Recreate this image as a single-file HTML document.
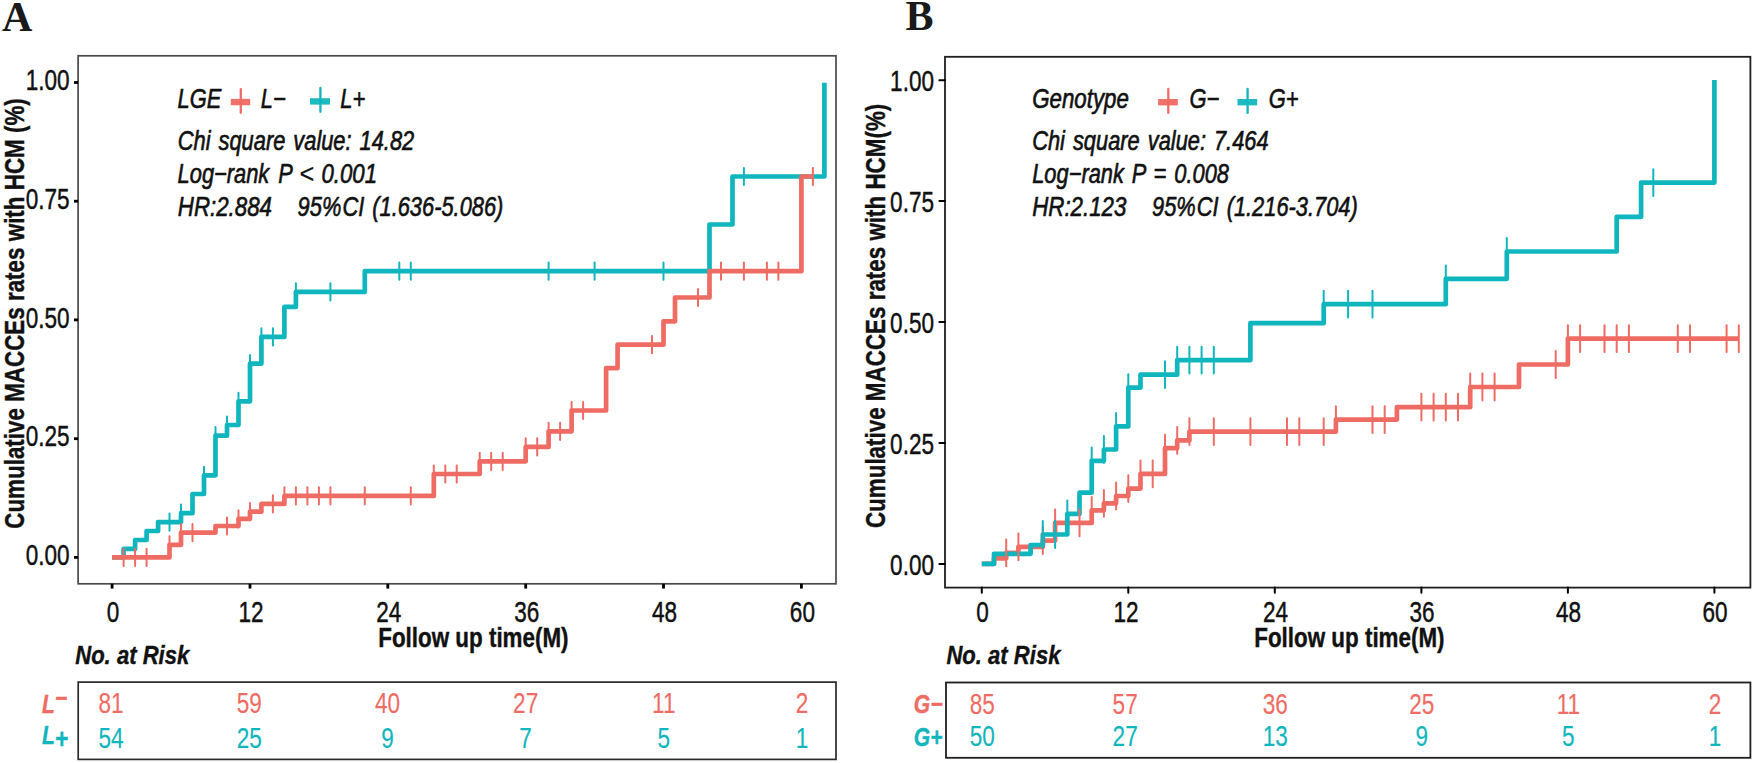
<!DOCTYPE html>
<html lang="en"><head><meta charset="utf-8"><title>Cumulative MACCEs rates with HCM</title>
<style>html,body{margin:0;padding:0;background:#fff}svg{display:block}</style></head><body>
<svg width="1755" height="763" viewBox="0 0 1755 763">
<rect x="0" y="0" width="1755" height="763" fill="#fff"/>
<g id="panelA">
<text transform="translate(2.00,30.60) scale(1.0,1)" font-family='"Liberation Serif", "Times New Roman", serif' font-size="42" font-weight="bold" font-style="normal" fill="#1a1a1a" text-anchor="start" xml:space="preserve">A</text>
<rect x="78.1" y="55.8" width="757.9" height="528.0" fill="none" stroke="#4a4a4a" stroke-width="1.7"/>
<path d="M112.1,557.4 L123.6,557.4 L123.6,548.9 L135.1,548.9 L135.1,540.0 L146.6,540.0 L146.6,531.0 L158.1,531.0 L158.1,522.1 L181.0,522.1 L181.0,513.2 L192.5,513.2 L192.5,494.0 L204.0,494.0 L204.0,475.3 L215.5,475.3 L215.5,435.7 L227.0,435.7 L227.0,425.0 L238.5,425.0 L238.5,401.3 L250.0,401.3 L250.0,363.7 L261.4,363.7 L261.4,336.9 L284.4,336.9 L284.4,306.9 L295.9,306.9 L295.9,291.9 L364.8,291.9 L364.8,271.2 L709.5,271.2 L709.5,224.5 L732.5,224.5 L732.5,176.5 L824.4,176.5 L824.4,82.7" stroke="#10B6BE" stroke-width="4.7" fill="none" stroke-linejoin="round" stroke-linecap="butt"/>
<path d="M112.1,557.4 L169.5,557.4 L169.5,544.8 L181.0,544.8 L181.0,532.6 L215.5,532.6 L215.5,526.0 L238.5,526.0 L238.5,518.8 L250.0,518.8 L250.0,511.7 L261.4,511.7 L261.4,503.9 L284.4,503.9 L284.4,495.9 L433.8,495.9 L433.8,474.0 L479.7,474.0 L479.7,461.3 L525.7,461.3 L525.7,446.9 L548.6,446.9 L548.6,431.3 L571.6,431.3 L571.6,410.5 L606.1,410.5 L606.1,368.1 L617.6,368.1 L617.6,344.7 L663.5,344.7 L663.5,321.3 L675.0,321.3 L675.0,297.5 L709.5,297.5 L709.5,271.2 L801.4,271.2 L801.4,176.5 L812.9,176.5" stroke="#EF6C64" stroke-width="4.7" fill="none" stroke-linejoin="round" stroke-linecap="butt"/>
<path d="M169.5,513.5V530.7M181.0,504.6V521.8M204.0,466.7V483.9M215.5,427.1V444.3M227.0,416.4V433.6M238.5,392.7V409.9M250.0,355.1V372.3M261.4,328.3V345.5M272.9,328.3V345.5M295.9,283.3V300.5M330.4,283.3V300.5M399.3,262.6V279.8M410.8,262.6V279.8M548.6,262.6V279.8M594.6,262.6V279.8M663.5,262.6V279.8M743.9,167.9V185.1" stroke="#10B6BE" stroke-width="2.0" fill="none" stroke-linecap="round"/>
<path d="M123.6,548.8V566.0M135.1,548.8V566.0M146.6,548.8V566.0M169.5,536.2V553.4M181.0,524.0V541.2M192.5,524.0V541.2M227.0,517.4V534.6M238.5,510.2V527.4M250.0,503.1V520.3M272.9,495.3V512.5M284.4,487.3V504.5M295.9,487.3V504.5M307.4,487.3V504.5M318.9,487.3V504.5M330.4,487.3V504.5M364.8,487.3V504.5M410.8,487.3V504.5M433.8,465.4V482.6M445.3,465.4V482.6M456.7,465.4V482.6M479.7,452.7V469.9M491.2,452.7V469.9M502.7,452.7V469.9M525.7,438.3V455.5M537.2,438.3V455.5M548.6,422.7V439.9M560.1,422.7V439.9M571.6,401.9V419.1M583.1,401.9V419.1M652.0,336.1V353.3M698.0,288.9V306.1M721.0,262.6V279.8M743.9,262.6V279.8M766.9,262.6V279.8M778.4,262.6V279.8M812.9,167.9V185.1" stroke="#EF6C64" stroke-width="2.0" fill="none" stroke-linecap="round"/>
<line x1="74.0" x2="78.1" y1="557.4" y2="557.4" stroke="#000" stroke-width="2.8"/>
<text transform="translate(69.60,565.20) scale(0.783,1)" font-family='"Liberation Sans", Arial, sans-serif' font-size="28.8" font-weight="normal" font-style="normal" fill="#111" stroke="#111" stroke-width="0.45" stroke-linejoin="round" text-anchor="end" xml:space="preserve">0.00</text>
<line x1="74.0" x2="78.1" y1="438.7" y2="438.7" stroke="#000" stroke-width="2.8"/>
<text transform="translate(69.60,446.47) scale(0.783,1)" font-family='"Liberation Sans", Arial, sans-serif' font-size="28.8" font-weight="normal" font-style="normal" fill="#111" stroke="#111" stroke-width="0.45" stroke-linejoin="round" text-anchor="end" xml:space="preserve">0.25</text>
<line x1="74.0" x2="78.1" y1="319.9" y2="319.9" stroke="#000" stroke-width="2.8"/>
<text transform="translate(69.60,327.75) scale(0.783,1)" font-family='"Liberation Sans", Arial, sans-serif' font-size="28.8" font-weight="normal" font-style="normal" fill="#111" stroke="#111" stroke-width="0.45" stroke-linejoin="round" text-anchor="end" xml:space="preserve">0.50</text>
<line x1="74.0" x2="78.1" y1="201.2" y2="201.2" stroke="#000" stroke-width="2.8"/>
<text transform="translate(69.60,209.03) scale(0.783,1)" font-family='"Liberation Sans", Arial, sans-serif' font-size="28.8" font-weight="normal" font-style="normal" fill="#111" stroke="#111" stroke-width="0.45" stroke-linejoin="round" text-anchor="end" xml:space="preserve">0.75</text>
<line x1="74.0" x2="78.1" y1="82.5" y2="82.5" stroke="#000" stroke-width="2.8"/>
<text transform="translate(69.60,90.30) scale(0.783,1)" font-family='"Liberation Sans", Arial, sans-serif' font-size="28.8" font-weight="normal" font-style="normal" fill="#111" stroke="#111" stroke-width="0.45" stroke-linejoin="round" text-anchor="end" xml:space="preserve">1.00</text>
<line x1="112.1" x2="112.1" y1="583.8" y2="588.6" stroke="#000" stroke-width="2.8"/>
<text transform="translate(113.10,621.50) scale(0.783,1)" font-family='"Liberation Sans", Arial, sans-serif' font-size="28.8" font-weight="normal" font-style="normal" fill="#111" stroke="#111" stroke-width="0.45" stroke-linejoin="round" text-anchor="middle" xml:space="preserve">0</text>
<line x1="250.0" x2="250.0" y1="583.8" y2="588.6" stroke="#000" stroke-width="2.8"/>
<text transform="translate(250.96,621.50) scale(0.783,1)" font-family='"Liberation Sans", Arial, sans-serif' font-size="28.8" font-weight="normal" font-style="normal" fill="#111" stroke="#111" stroke-width="0.45" stroke-linejoin="round" text-anchor="middle" xml:space="preserve">12</text>
<line x1="387.8" x2="387.8" y1="583.8" y2="588.6" stroke="#000" stroke-width="2.8"/>
<text transform="translate(388.81,621.50) scale(0.783,1)" font-family='"Liberation Sans", Arial, sans-serif' font-size="28.8" font-weight="normal" font-style="normal" fill="#111" stroke="#111" stroke-width="0.45" stroke-linejoin="round" text-anchor="middle" xml:space="preserve">24</text>
<line x1="525.7" x2="525.7" y1="583.8" y2="588.6" stroke="#000" stroke-width="2.8"/>
<text transform="translate(526.67,621.50) scale(0.783,1)" font-family='"Liberation Sans", Arial, sans-serif' font-size="28.8" font-weight="normal" font-style="normal" fill="#111" stroke="#111" stroke-width="0.45" stroke-linejoin="round" text-anchor="middle" xml:space="preserve">36</text>
<line x1="663.5" x2="663.5" y1="583.8" y2="588.6" stroke="#000" stroke-width="2.8"/>
<text transform="translate(664.52,621.50) scale(0.783,1)" font-family='"Liberation Sans", Arial, sans-serif' font-size="28.8" font-weight="normal" font-style="normal" fill="#111" stroke="#111" stroke-width="0.45" stroke-linejoin="round" text-anchor="middle" xml:space="preserve">48</text>
<line x1="801.4" x2="801.4" y1="583.8" y2="588.6" stroke="#000" stroke-width="2.8"/>
<text transform="translate(802.38,621.50) scale(0.783,1)" font-family='"Liberation Sans", Arial, sans-serif' font-size="28.8" font-weight="normal" font-style="normal" fill="#111" stroke="#111" stroke-width="0.45" stroke-linejoin="round" text-anchor="middle" xml:space="preserve">60</text>
<text transform="translate(473.40,646.80) scale(0.83,1)" font-family='"Liberation Sans", Arial, sans-serif' font-size="27" font-weight="bold" font-style="normal" fill="#111" stroke="#111" stroke-width="0.4" stroke-linejoin="round" text-anchor="middle" xml:space="preserve">Follow up time(M)</text>
<text transform="translate(23.60,313.50) rotate(-90) scale(0.83,1)" font-family='"Liberation Sans", Arial, sans-serif' font-size="27" font-weight="bold" font-style="normal" fill="#111" stroke="#111" stroke-width="0.4" stroke-linejoin="round" text-anchor="middle" xml:space="preserve">Cumulative MACCEs rates with HCM (%)</text>
<text transform="translate(177.60,108.00) scale(0.8,1)" font-family='"Liberation Sans", Arial, sans-serif' font-size="27.3" font-weight="normal" font-style="italic" fill="#111" stroke="#111" stroke-width="0.65" stroke-linejoin="round" word-spacing="2.4" text-anchor="start" xml:space="preserve">LGE</text>
<path d="M230.8,102.05H250.2" stroke="#F0716A" stroke-width="6.4" fill="none"/>
<path d="M240.8,89.1V112.8" stroke="#EF6C64" stroke-width="2.3" fill="none" stroke-linecap="round"/>
<text transform="translate(260.80,108.00) scale(0.795,1)" font-family='"Liberation Sans", Arial, sans-serif' font-size="27.6" font-weight="normal" font-style="italic" fill="#111" stroke="#111" stroke-width="0.6" stroke-linejoin="round" word-spacing="2.4" text-anchor="start" xml:space="preserve">L−</text>
<path d="M310.0,101.4H330.0" stroke="#1DBBC0" stroke-width="6.4" fill="none"/>
<path d="M320.4,88.0V111.8" stroke="#10B6BE" stroke-width="2.3" fill="none" stroke-linecap="round"/>
<text transform="translate(340.30,108.00) scale(0.795,1)" font-family='"Liberation Sans", Arial, sans-serif' font-size="27.6" font-weight="normal" font-style="italic" fill="#111" stroke="#111" stroke-width="0.6" stroke-linejoin="round" word-spacing="2.4" text-anchor="start" xml:space="preserve">L+</text>
<text transform="translate(177.80,150.00) scale(0.8,1)" font-family='"Liberation Sans", Arial, sans-serif' font-size="27.3" font-weight="normal" font-style="italic" fill="#111" stroke="#111" stroke-width="0.65" stroke-linejoin="round" word-spacing="2.4" text-anchor="start" xml:space="preserve">Chi square value: 14.82</text>
<text transform="translate(177.60,182.50) scale(0.8,1)" font-family='"Liberation Sans", Arial, sans-serif' font-size="27.3" font-weight="normal" font-style="italic" fill="#111" stroke="#111" stroke-width="0.65" stroke-linejoin="round" word-spacing="3.6" text-anchor="start" xml:space="preserve">Log−rank P</text>
<text transform="translate(299.60,182.50) scale(0.93,1)" font-family='"Liberation Sans", Arial, sans-serif' font-size="27.3" font-weight="normal" font-style="normal" fill="#111" stroke="#111" stroke-width="0.15" stroke-linejoin="round" text-anchor="start" xml:space="preserve">&lt;</text>
<text transform="translate(321.40,182.50) scale(0.815,1)" font-family='"Liberation Sans", Arial, sans-serif' font-size="27.3" font-weight="normal" font-style="italic" fill="#111" stroke="#111" stroke-width="0.65" stroke-linejoin="round" word-spacing="2.4" text-anchor="start" xml:space="preserve">0.001</text>
<text transform="translate(177.80,216.20) scale(0.817,1)" font-family='"Liberation Sans", Arial, sans-serif' font-size="27.3" font-weight="normal" font-style="italic" fill="#111" stroke="#111" stroke-width="0.65" stroke-linejoin="round" word-spacing="2.4" text-anchor="start" xml:space="preserve">HR:2.884</text>
<text transform="translate(297.60,216.20) scale(0.8,1)" font-family='"Liberation Sans", Arial, sans-serif' font-size="27.3" font-weight="normal" font-style="italic" fill="#111" stroke="#111" stroke-width="0.65" stroke-linejoin="round" word-spacing="2.4" text-anchor="start" xml:space="preserve">95%</text>
<text transform="translate(342.40,216.20) scale(0.8,1)" font-family='"Liberation Sans", Arial, sans-serif' font-size="27.3" font-weight="normal" font-style="italic" fill="#111" stroke="#111" stroke-width="0.65" stroke-linejoin="round" word-spacing="2.4" text-anchor="start" xml:space="preserve">CI (1.636-5.086)</text>
<text transform="translate(75.20,664.00) scale(0.83,1)" font-family='"Liberation Sans", Arial, sans-serif' font-size="26.6" font-weight="bold" font-style="italic" fill="#111" stroke="#111" stroke-width="0.4" stroke-linejoin="round" text-anchor="start" xml:space="preserve">No. at Risk</text>
<rect x="78.2" y="682.1" width="757.8" height="77.3" fill="none" stroke="#2a2a2a" stroke-width="1.7"/>
<text transform="translate(42.00,712.60) scale(0.81,1)" font-family='"Liberation Sans", Arial, sans-serif' font-size="26" font-weight="bold" font-style="italic" fill="#EF6C64" stroke="#EF6C64" stroke-width="0.4" stroke-linejoin="round" text-anchor="start" xml:space="preserve">L<tspan dy="-5.5">−</tspan></text>
<text transform="translate(42.00,744.40) scale(0.81,1)" font-family='"Liberation Sans", Arial, sans-serif' font-size="26" font-weight="bold" font-style="italic" fill="#10B6BE" stroke="#10B6BE" stroke-width="0.4" stroke-linejoin="round" text-anchor="start" xml:space="preserve">L<tspan dy="3.5" font-size="28">+</tspan></text>
<text transform="translate(111.10,712.80) scale(0.783,1)" font-family='"Liberation Sans", Arial, sans-serif' font-size="28.8" font-weight="normal" font-style="normal" fill="#EF6C64" stroke="#EF6C64" stroke-width="0.15" stroke-linejoin="round" text-anchor="middle" xml:space="preserve">81</text>
<text transform="translate(111.10,747.90) scale(0.783,1)" font-family='"Liberation Sans", Arial, sans-serif' font-size="28.8" font-weight="normal" font-style="normal" fill="#10B6BE" stroke="#10B6BE" stroke-width="0.15" stroke-linejoin="round" text-anchor="middle" xml:space="preserve">54</text>
<text transform="translate(249.28,712.80) scale(0.783,1)" font-family='"Liberation Sans", Arial, sans-serif' font-size="28.8" font-weight="normal" font-style="normal" fill="#EF6C64" stroke="#EF6C64" stroke-width="0.15" stroke-linejoin="round" text-anchor="middle" xml:space="preserve">59</text>
<text transform="translate(249.28,747.90) scale(0.783,1)" font-family='"Liberation Sans", Arial, sans-serif' font-size="28.8" font-weight="normal" font-style="normal" fill="#10B6BE" stroke="#10B6BE" stroke-width="0.15" stroke-linejoin="round" text-anchor="middle" xml:space="preserve">25</text>
<text transform="translate(387.46,712.80) scale(0.783,1)" font-family='"Liberation Sans", Arial, sans-serif' font-size="28.8" font-weight="normal" font-style="normal" fill="#EF6C64" stroke="#EF6C64" stroke-width="0.15" stroke-linejoin="round" text-anchor="middle" xml:space="preserve">40</text>
<text transform="translate(387.46,747.90) scale(0.783,1)" font-family='"Liberation Sans", Arial, sans-serif' font-size="28.8" font-weight="normal" font-style="normal" fill="#10B6BE" stroke="#10B6BE" stroke-width="0.15" stroke-linejoin="round" text-anchor="middle" xml:space="preserve">9</text>
<text transform="translate(525.64,712.80) scale(0.783,1)" font-family='"Liberation Sans", Arial, sans-serif' font-size="28.8" font-weight="normal" font-style="normal" fill="#EF6C64" stroke="#EF6C64" stroke-width="0.15" stroke-linejoin="round" text-anchor="middle" xml:space="preserve">27</text>
<text transform="translate(525.64,747.90) scale(0.783,1)" font-family='"Liberation Sans", Arial, sans-serif' font-size="28.8" font-weight="normal" font-style="normal" fill="#10B6BE" stroke="#10B6BE" stroke-width="0.15" stroke-linejoin="round" text-anchor="middle" xml:space="preserve">7</text>
<text transform="translate(663.82,712.80) scale(0.783,1)" font-family='"Liberation Sans", Arial, sans-serif' font-size="28.8" font-weight="normal" font-style="normal" fill="#EF6C64" stroke="#EF6C64" stroke-width="0.15" stroke-linejoin="round" text-anchor="middle" xml:space="preserve">11</text>
<text transform="translate(663.82,747.90) scale(0.783,1)" font-family='"Liberation Sans", Arial, sans-serif' font-size="28.8" font-weight="normal" font-style="normal" fill="#10B6BE" stroke="#10B6BE" stroke-width="0.15" stroke-linejoin="round" text-anchor="middle" xml:space="preserve">5</text>
<text transform="translate(802.00,712.80) scale(0.783,1)" font-family='"Liberation Sans", Arial, sans-serif' font-size="28.8" font-weight="normal" font-style="normal" fill="#EF6C64" stroke="#EF6C64" stroke-width="0.15" stroke-linejoin="round" text-anchor="middle" xml:space="preserve">2</text>
<text transform="translate(802.00,747.90) scale(0.783,1)" font-family='"Liberation Sans", Arial, sans-serif' font-size="28.8" font-weight="normal" font-style="normal" fill="#10B6BE" stroke="#10B6BE" stroke-width="0.15" stroke-linejoin="round" text-anchor="middle" xml:space="preserve">1</text>
</g>
<g id="panelB">
<text transform="translate(905.50,30.20) scale(1.0,1)" font-family='"Liberation Serif", "Times New Roman", serif' font-size="42" font-weight="bold" font-style="normal" fill="#1a1a1a" text-anchor="start" xml:space="preserve">B</text>
<rect x="945.0" y="56.8" width="805.4" height="530.8" fill="none" stroke="#1f1f1f" stroke-width="1.8"/>
<path d="M981.8,563.9 L994.0,563.9 L994.0,558.3 L1006.2,558.3 L1006.2,552.8 L1018.4,552.8 L1018.4,546.8 L1042.8,546.8 L1042.8,540.6 L1055.1,540.6 L1055.1,522.9 L1091.7,522.9 L1091.7,510.3 L1103.9,510.3 L1103.9,503.3 L1116.1,503.3 L1116.1,496.0 L1128.3,496.0 L1128.3,488.6 L1140.5,488.6 L1140.5,473.9 L1165.0,473.9 L1165.0,448.2 L1177.2,448.2 L1177.2,440.4 L1189.4,440.4 L1189.4,431.6 L1335.9,431.6 L1335.9,419.6 L1396.9,419.6 L1396.9,407.2 L1470.2,407.2 L1470.2,387.0 L1519.0,387.0 L1519.0,364.5 L1567.9,364.5 L1567.9,338.6 L1738.8,338.6" stroke="#EF6C64" stroke-width="4.7" fill="none" stroke-linejoin="round" stroke-linecap="butt"/>
<path d="M981.8,563.9 L994.0,563.9 L994.0,553.8 L1030.6,553.8 L1030.6,545.0 L1042.8,545.0 L1042.8,534.5 L1067.3,534.5 L1067.3,513.9 L1079.5,513.9 L1079.5,492.7 L1091.7,492.7 L1091.7,460.8 L1103.9,460.8 L1103.9,449.5 L1116.1,449.5 L1116.1,426.4 L1128.3,426.4 L1128.3,387.6 L1140.5,387.6 L1140.5,374.7 L1177.2,374.7 L1177.2,360.2 L1250.4,360.2 L1250.4,323.2 L1323.7,323.2 L1323.7,304.2 L1445.8,304.2 L1445.8,278.8 L1506.8,278.8 L1506.8,251.5 L1616.7,251.5 L1616.7,216.9 L1641.1,216.9 L1641.1,182.6 L1714.4,182.6 L1714.4,80.0" stroke="#10B6BE" stroke-width="4.7" fill="none" stroke-linejoin="round" stroke-linecap="butt"/>
<path d="M1006.2,539.4V566.2M1018.4,533.4V560.2M1042.8,527.2V554.0M1055.1,509.5V536.3M1079.5,509.5V536.3M1091.7,496.9V523.7M1103.9,489.9V516.7M1116.1,482.6V509.4M1128.3,475.2V502.0M1140.5,460.5V487.3M1152.7,460.5V487.3M1165.0,434.8V461.6M1177.2,427.0V453.8M1189.4,418.2V445.0M1213.8,418.2V445.0M1250.4,418.2V445.0M1287.0,418.2V445.0M1299.3,418.2V445.0M1323.7,418.2V445.0M1335.9,406.2V433.0M1372.5,406.2V433.0M1384.7,406.2V433.0M1421.4,393.8V420.6M1433.6,393.8V420.6M1445.8,393.8V420.6M1458.0,393.8V420.6M1470.2,373.6V400.4M1482.4,373.6V400.4M1494.6,373.6V400.4M1555.7,351.1V377.9M1567.9,325.2V352.0M1580.1,325.2V352.0M1604.5,325.2V352.0M1616.7,325.2V352.0M1628.9,325.2V352.0M1677.8,325.2V352.0M1690.0,325.2V352.0M1726.6,325.2V352.0M1738.8,325.2V352.0" stroke="#EF6C64" stroke-width="2.0" fill="none" stroke-linecap="round"/>
<path d="M1042.8,521.1V547.9M1055.1,521.1V547.9M1067.3,500.5V527.3M1091.7,447.4V474.2M1103.9,436.1V462.9M1116.1,413.0V439.8M1128.3,374.2V401.0M1165.0,361.3V388.1M1177.2,346.8V373.6M1189.4,346.8V373.6M1201.6,346.8V373.6M1213.8,346.8V373.6M1323.7,290.8V317.6M1348.1,290.8V317.6M1372.5,290.8V317.6M1445.8,265.4V292.2M1506.8,238.1V264.9M1653.3,169.2V196.0" stroke="#10B6BE" stroke-width="2.0" fill="none" stroke-linecap="round"/>
<line x1="939.4" x2="945.0" y1="563.9" y2="563.9" stroke="#000" stroke-width="2.0" stroke-linecap="round"/>
<text transform="translate(934.00,574.70) scale(0.783,1)" font-family='"Liberation Sans", Arial, sans-serif' font-size="28.8" font-weight="normal" font-style="normal" fill="#111" stroke="#111" stroke-width="0.45" stroke-linejoin="round" text-anchor="end" xml:space="preserve">0.00</text>
<line x1="939.4" x2="945.0" y1="443.0" y2="443.0" stroke="#000" stroke-width="2.0" stroke-linecap="round"/>
<text transform="translate(934.00,453.77) scale(0.783,1)" font-family='"Liberation Sans", Arial, sans-serif' font-size="28.8" font-weight="normal" font-style="normal" fill="#111" stroke="#111" stroke-width="0.45" stroke-linejoin="round" text-anchor="end" xml:space="preserve">0.25</text>
<line x1="939.4" x2="945.0" y1="322.0" y2="322.0" stroke="#000" stroke-width="2.0" stroke-linecap="round"/>
<text transform="translate(934.00,332.85) scale(0.783,1)" font-family='"Liberation Sans", Arial, sans-serif' font-size="28.8" font-weight="normal" font-style="normal" fill="#111" stroke="#111" stroke-width="0.45" stroke-linejoin="round" text-anchor="end" xml:space="preserve">0.50</text>
<line x1="939.4" x2="945.0" y1="201.1" y2="201.1" stroke="#000" stroke-width="2.0" stroke-linecap="round"/>
<text transform="translate(934.00,211.93) scale(0.783,1)" font-family='"Liberation Sans", Arial, sans-serif' font-size="28.8" font-weight="normal" font-style="normal" fill="#111" stroke="#111" stroke-width="0.45" stroke-linejoin="round" text-anchor="end" xml:space="preserve">0.75</text>
<line x1="939.4" x2="945.0" y1="80.2" y2="80.2" stroke="#000" stroke-width="2.0" stroke-linecap="round"/>
<text transform="translate(934.00,91.00) scale(0.783,1)" font-family='"Liberation Sans", Arial, sans-serif' font-size="28.8" font-weight="normal" font-style="normal" fill="#111" stroke="#111" stroke-width="0.45" stroke-linejoin="round" text-anchor="end" xml:space="preserve">1.00</text>
<line x1="981.8" x2="981.8" y1="587.6" y2="592.8" stroke="#000" stroke-width="2.0" stroke-linecap="round"/>
<text transform="translate(982.40,621.50) scale(0.783,1)" font-family='"Liberation Sans", Arial, sans-serif' font-size="28.8" font-weight="normal" font-style="normal" fill="#111" stroke="#111" stroke-width="0.45" stroke-linejoin="round" text-anchor="middle" xml:space="preserve">0</text>
<line x1="1128.3" x2="1128.3" y1="587.6" y2="592.8" stroke="#000" stroke-width="2.0" stroke-linecap="round"/>
<text transform="translate(1125.92,621.50) scale(0.783,1)" font-family='"Liberation Sans", Arial, sans-serif' font-size="28.8" font-weight="normal" font-style="normal" fill="#111" stroke="#111" stroke-width="0.45" stroke-linejoin="round" text-anchor="middle" xml:space="preserve">12</text>
<line x1="1274.8" x2="1274.8" y1="587.6" y2="592.8" stroke="#000" stroke-width="2.0" stroke-linecap="round"/>
<text transform="translate(1275.44,621.50) scale(0.783,1)" font-family='"Liberation Sans", Arial, sans-serif' font-size="28.8" font-weight="normal" font-style="normal" fill="#111" stroke="#111" stroke-width="0.45" stroke-linejoin="round" text-anchor="middle" xml:space="preserve">24</text>
<line x1="1421.4" x2="1421.4" y1="587.6" y2="592.8" stroke="#000" stroke-width="2.0" stroke-linecap="round"/>
<text transform="translate(1421.96,621.50) scale(0.783,1)" font-family='"Liberation Sans", Arial, sans-serif' font-size="28.8" font-weight="normal" font-style="normal" fill="#111" stroke="#111" stroke-width="0.45" stroke-linejoin="round" text-anchor="middle" xml:space="preserve">36</text>
<line x1="1567.9" x2="1567.9" y1="587.6" y2="592.8" stroke="#000" stroke-width="2.0" stroke-linecap="round"/>
<text transform="translate(1568.48,621.50) scale(0.783,1)" font-family='"Liberation Sans", Arial, sans-serif' font-size="28.8" font-weight="normal" font-style="normal" fill="#111" stroke="#111" stroke-width="0.45" stroke-linejoin="round" text-anchor="middle" xml:space="preserve">48</text>
<line x1="1714.4" x2="1714.4" y1="587.6" y2="592.8" stroke="#000" stroke-width="2.0" stroke-linecap="round"/>
<text transform="translate(1715.00,621.50) scale(0.783,1)" font-family='"Liberation Sans", Arial, sans-serif' font-size="28.8" font-weight="normal" font-style="normal" fill="#111" stroke="#111" stroke-width="0.45" stroke-linejoin="round" text-anchor="middle" xml:space="preserve">60</text>
<text transform="translate(1349.40,646.80) scale(0.83,1)" font-family='"Liberation Sans", Arial, sans-serif' font-size="27" font-weight="bold" font-style="normal" fill="#111" stroke="#111" stroke-width="0.4" stroke-linejoin="round" text-anchor="middle" xml:space="preserve">Follow up time(M)</text>
<text transform="translate(884.50,315.90) rotate(-90) scale(0.83,1)" font-family='"Liberation Sans", Arial, sans-serif' font-size="27" font-weight="bold" font-style="normal" fill="#111" stroke="#111" stroke-width="0.4" stroke-linejoin="round" text-anchor="middle" xml:space="preserve">Cumulative MACCEs rates with HCM(%)</text>
<text transform="translate(1032.20,108.00) scale(0.817,1)" font-family='"Liberation Sans", Arial, sans-serif' font-size="27.3" font-weight="normal" font-style="italic" fill="#111" stroke="#111" stroke-width="0.65" stroke-linejoin="round" word-spacing="2.4" text-anchor="start" xml:space="preserve">Genotype</text>
<path d="M1158.1,102.2H1177.8" stroke="#F0716A" stroke-width="6.4" fill="none"/>
<path d="M1168.3,89.0V112.9" stroke="#EF6C64" stroke-width="2.3" fill="none" stroke-linecap="round"/>
<text transform="translate(1189.40,108.00) scale(0.795,1)" font-family='"Liberation Sans", Arial, sans-serif' font-size="27.6" font-weight="normal" font-style="italic" fill="#111" stroke="#111" stroke-width="0.6" stroke-linejoin="round" word-spacing="2.4" text-anchor="start" xml:space="preserve">G−</text>
<path d="M1237.5,102.2H1257.2" stroke="#1DBBC0" stroke-width="6.4" fill="none"/>
<path d="M1247.6,89.0V112.9" stroke="#10B6BE" stroke-width="2.3" fill="none" stroke-linecap="round"/>
<text transform="translate(1268.80,108.00) scale(0.795,1)" font-family='"Liberation Sans", Arial, sans-serif' font-size="27.6" font-weight="normal" font-style="italic" fill="#111" stroke="#111" stroke-width="0.6" stroke-linejoin="round" word-spacing="2.4" text-anchor="start" xml:space="preserve">G+</text>
<text transform="translate(1032.20,150.00) scale(0.8,1)" font-family='"Liberation Sans", Arial, sans-serif' font-size="27.3" font-weight="normal" font-style="italic" fill="#111" stroke="#111" stroke-width="0.65" stroke-linejoin="round" word-spacing="2.4" text-anchor="start" xml:space="preserve">Chi square value: 7.464</text>
<text transform="translate(1032.20,182.50) scale(0.8,1)" font-family='"Liberation Sans", Arial, sans-serif' font-size="27.3" font-weight="normal" font-style="italic" fill="#111" stroke="#111" stroke-width="0.65" stroke-linejoin="round" word-spacing="2.4" text-anchor="start" xml:space="preserve">Log−rank P = 0.008</text>
<text transform="translate(1032.20,216.20) scale(0.817,1)" font-family='"Liberation Sans", Arial, sans-serif' font-size="27.3" font-weight="normal" font-style="italic" fill="#111" stroke="#111" stroke-width="0.65" stroke-linejoin="round" word-spacing="2.4" text-anchor="start" xml:space="preserve">HR:2.123</text>
<text transform="translate(1152.00,216.20) scale(0.8,1)" font-family='"Liberation Sans", Arial, sans-serif' font-size="27.3" font-weight="normal" font-style="italic" fill="#111" stroke="#111" stroke-width="0.65" stroke-linejoin="round" word-spacing="2.4" text-anchor="start" xml:space="preserve">95%</text>
<text transform="translate(1196.80,216.20) scale(0.8,1)" font-family='"Liberation Sans", Arial, sans-serif' font-size="27.3" font-weight="normal" font-style="italic" fill="#111" stroke="#111" stroke-width="0.65" stroke-linejoin="round" word-spacing="2.4" text-anchor="start" xml:space="preserve">CI (1.216-3.704)</text>
<text transform="translate(946.40,664.00) scale(0.83,1)" font-family='"Liberation Sans", Arial, sans-serif' font-size="26.6" font-weight="bold" font-style="italic" fill="#111" stroke="#111" stroke-width="0.4" stroke-linejoin="round" text-anchor="start" xml:space="preserve">No. at Risk</text>
<rect x="946.0" y="682.5" width="804.4" height="75.3" fill="none" stroke="#1f1f1f" stroke-width="1.8"/>
<text transform="translate(913.80,712.60) scale(0.81,1)" font-family='"Liberation Sans", Arial, sans-serif' font-size="26" font-weight="bold" font-style="italic" fill="#EF6C64" stroke="#EF6C64" stroke-width="0.4" stroke-linejoin="round" text-anchor="start" xml:space="preserve">G−</text>
<text transform="translate(913.80,745.50) scale(0.81,1)" font-family='"Liberation Sans", Arial, sans-serif' font-size="26" font-weight="bold" font-style="italic" fill="#10B6BE" stroke="#10B6BE" stroke-width="0.4" stroke-linejoin="round" text-anchor="start" xml:space="preserve">G+</text>
<text transform="translate(982.30,713.60) scale(0.783,1)" font-family='"Liberation Sans", Arial, sans-serif' font-size="28.8" font-weight="normal" font-style="normal" fill="#EF6C64" stroke="#EF6C64" stroke-width="0.15" stroke-linejoin="round" text-anchor="middle" xml:space="preserve">85</text>
<text transform="translate(982.30,745.90) scale(0.783,1)" font-family='"Liberation Sans", Arial, sans-serif' font-size="28.8" font-weight="normal" font-style="normal" fill="#10B6BE" stroke="#10B6BE" stroke-width="0.15" stroke-linejoin="round" text-anchor="middle" xml:space="preserve">50</text>
<text transform="translate(1125.12,713.60) scale(0.783,1)" font-family='"Liberation Sans", Arial, sans-serif' font-size="28.8" font-weight="normal" font-style="normal" fill="#EF6C64" stroke="#EF6C64" stroke-width="0.15" stroke-linejoin="round" text-anchor="middle" xml:space="preserve">57</text>
<text transform="translate(1125.12,745.90) scale(0.783,1)" font-family='"Liberation Sans", Arial, sans-serif' font-size="28.8" font-weight="normal" font-style="normal" fill="#10B6BE" stroke="#10B6BE" stroke-width="0.15" stroke-linejoin="round" text-anchor="middle" xml:space="preserve">27</text>
<text transform="translate(1275.34,713.60) scale(0.783,1)" font-family='"Liberation Sans", Arial, sans-serif' font-size="28.8" font-weight="normal" font-style="normal" fill="#EF6C64" stroke="#EF6C64" stroke-width="0.15" stroke-linejoin="round" text-anchor="middle" xml:space="preserve">36</text>
<text transform="translate(1275.34,745.90) scale(0.783,1)" font-family='"Liberation Sans", Arial, sans-serif' font-size="28.8" font-weight="normal" font-style="normal" fill="#10B6BE" stroke="#10B6BE" stroke-width="0.15" stroke-linejoin="round" text-anchor="middle" xml:space="preserve">13</text>
<text transform="translate(1421.86,713.60) scale(0.783,1)" font-family='"Liberation Sans", Arial, sans-serif' font-size="28.8" font-weight="normal" font-style="normal" fill="#EF6C64" stroke="#EF6C64" stroke-width="0.15" stroke-linejoin="round" text-anchor="middle" xml:space="preserve">25</text>
<text transform="translate(1421.86,745.90) scale(0.783,1)" font-family='"Liberation Sans", Arial, sans-serif' font-size="28.8" font-weight="normal" font-style="normal" fill="#10B6BE" stroke="#10B6BE" stroke-width="0.15" stroke-linejoin="round" text-anchor="middle" xml:space="preserve">9</text>
<text transform="translate(1568.38,713.60) scale(0.783,1)" font-family='"Liberation Sans", Arial, sans-serif' font-size="28.8" font-weight="normal" font-style="normal" fill="#EF6C64" stroke="#EF6C64" stroke-width="0.15" stroke-linejoin="round" text-anchor="middle" xml:space="preserve">11</text>
<text transform="translate(1568.38,745.90) scale(0.783,1)" font-family='"Liberation Sans", Arial, sans-serif' font-size="28.8" font-weight="normal" font-style="normal" fill="#10B6BE" stroke="#10B6BE" stroke-width="0.15" stroke-linejoin="round" text-anchor="middle" xml:space="preserve">5</text>
<text transform="translate(1714.90,713.60) scale(0.783,1)" font-family='"Liberation Sans", Arial, sans-serif' font-size="28.8" font-weight="normal" font-style="normal" fill="#EF6C64" stroke="#EF6C64" stroke-width="0.15" stroke-linejoin="round" text-anchor="middle" xml:space="preserve">2</text>
<text transform="translate(1714.90,745.90) scale(0.783,1)" font-family='"Liberation Sans", Arial, sans-serif' font-size="28.8" font-weight="normal" font-style="normal" fill="#10B6BE" stroke="#10B6BE" stroke-width="0.15" stroke-linejoin="round" text-anchor="middle" xml:space="preserve">1</text>
</g>
</svg></body></html>
